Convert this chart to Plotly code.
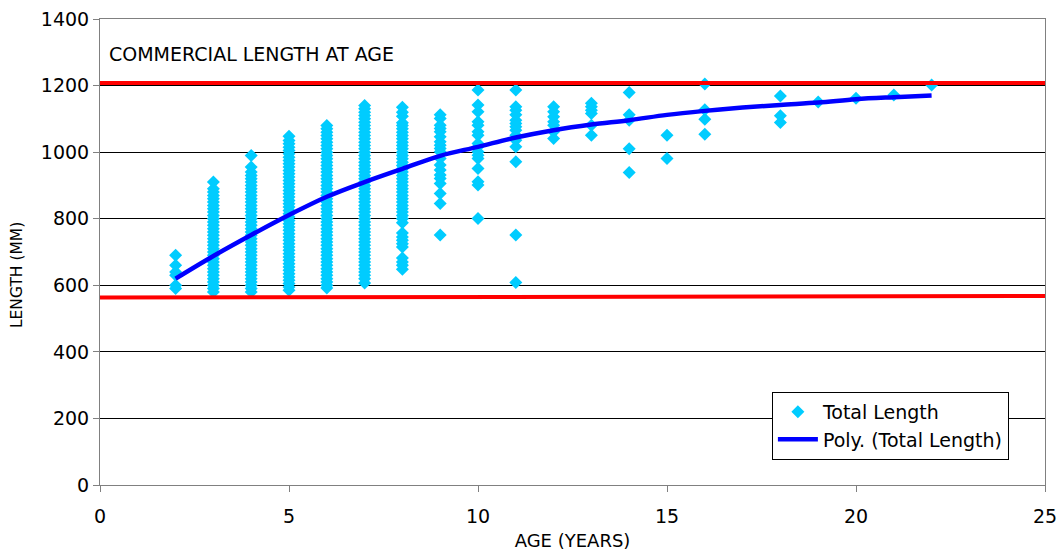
import plotly.graph_objects as go

# ---- data ----
age_2 = [590, 600, 630, 640, 660, 690]
age_3 = [580, 590, 600, 610, 620, 630, 640, 650, 660, 670, 680, 690, 700, 710, 720, 730,
         740, 750, 760, 770, 780, 790, 800, 810, 820, 830, 840, 850, 860, 870, 880, 890, 910]
age_4 = [580, 590, 600, 610, 620, 630, 640, 650, 660, 670, 680, 690, 700, 710, 720, 730,
         740, 750, 760, 770, 780, 790, 800, 810, 820, 830, 840, 850, 860, 870, 880, 890,
         900, 910, 920, 930, 940, 955, 990]
age_5 = [585, 595, 605, 615, 625, 635, 645, 655, 665, 675, 685, 695, 705, 715, 725, 735,
         745, 755, 765, 775, 785, 795, 805, 815, 825, 835, 845, 855, 865, 875, 885, 895,
         905, 915, 925, 935, 945, 955, 965, 975, 985, 995, 1005, 1015, 1025, 1035, 1048]
age_6 = [592, 600, 610, 620, 630, 640, 650, 660, 670, 680, 690, 700, 710, 720, 730, 740,
         750, 760, 770, 780, 790, 800, 810, 820, 830, 840, 850, 860, 870, 880, 890, 900,
         910, 920, 930, 940, 950, 960, 970, 980, 990, 1000, 1010, 1020, 1030, 1040, 1050,
         1060, 1070, 1080]
age_7 = [607, 620, 630, 640, 650, 660, 670, 680, 690, 700, 710, 720, 730, 740, 750, 760,
         770, 780, 790, 800, 810, 820, 830, 840, 850, 860, 870, 880, 890, 900, 910, 920,
         930, 940, 950, 960, 970, 980, 990, 1000, 1010, 1020, 1030, 1040, 1050, 1060, 1070,
         1080, 1090, 1100, 1110, 1120, 1130, 1140]
age_8 = [648, 660, 670, 682, 715, 725, 735, 745, 757, 788, 800, 810, 820, 830, 840, 850,
         860, 870, 880, 890, 900, 910, 920, 930, 940, 950, 960, 970, 980, 990, 1000, 1010,
         1020, 1030, 1040, 1050, 1060, 1070, 1080, 1088, 1108, 1120, 1135]
age_9 = [751, 846, 876, 906, 921, 931, 946, 961, 981, 1001, 1011, 1021, 1031, 1046, 1061,
         1071, 1081, 1101, 1112]
age_10 = [801, 901, 911, 951, 981, 991, 1001, 1016, 1026, 1051, 1061, 1081, 1091, 1121,
          1142, 1187]
age_11 = [608, 751, 971, 1016, 1036, 1051, 1066, 1076, 1086, 1096, 1112, 1126, 1136, 1187]
age_12 = [1041, 1061, 1081, 1091, 1106, 1121, 1136]
age_13 = [1051, 1081, 1116, 1126, 1136, 1147]
age_14 = [939, 1010, 1096, 1112, 1179]
age_15 = [981, 1051]
age_16 = [1054, 1099, 1127, 1205]
age_18 = [1089, 1109, 1169]
age_19 = [1151]
age_20 = [1162]
age_21 = [1172]
age_22 = [1202]

columns = {2: age_2, 3: age_3, 4: age_4, 5: age_5, 6: age_6, 7: age_7, 8: age_8,
           9: age_9, 10: age_10, 11: age_11, 12: age_12, 13: age_13, 14: age_14,
           15: age_15, 16: age_16, 18: age_18, 19: age_19, 20: age_20, 21: age_21,
           22: age_22}

trend_age = [2, 3, 4, 5, 6, 7, 8, 9, 10, 11, 12, 13, 14, 15, 16, 17, 18, 19, 20, 21, 22]
trend_len = [620, 688, 751, 811, 866, 910, 950, 989, 1016, 1044, 1066, 1083, 1096, 1112,
             1124, 1134, 1142, 1149, 1159, 1165, 1170]

commercial_x = [0, 25]
commercial_min = [563, 568]
commercial_max = [1208, 1208]

scatter_x = []
scatter_y = []
for a, vals in columns.items():
    scatter_x += [a] * len(vals)
    scatter_y += vals

FONT = "DejaVu Sans, Verdana, sans-serif"

fig = go.Figure()
fig.add_trace(go.Scatter(
    x=scatter_x, y=scatter_y, mode="markers", name="Total Length",
    marker=dict(symbol="diamond", size=10, color="#00CCFF", line=dict(width=0)),
))
fig.add_trace(go.Scatter(
    x=trend_age, y=trend_len, mode="lines", name="Poly. (Total Length)",
    line=dict(color="#0000FF", width=4.5, shape="spline"),
))
fig.add_trace(go.Scatter(
    x=commercial_x, y=commercial_min, mode="lines", showlegend=False,
    line=dict(color="#FF0000", width=4), hoverinfo="skip",
))
fig.add_trace(go.Scatter(
    x=commercial_x, y=commercial_max, mode="lines", showlegend=False,
    line=dict(color="#FF0000", width=4), hoverinfo="skip",
))

fig.add_annotation(
    text="COMMERCIAL LENGTH AT AGE", xref="paper", yref="paper",
    x=0.007, y=0.925, xanchor="left", yanchor="middle", showarrow=False,
    font=dict(family=FONT, size=19, color="#000000"),
)
fig.add_annotation(
    text="LENGTH (MM)", xref="paper", yref="paper",
    x=-0.087, y=0.45, xanchor="center", yanchor="middle", showarrow=False,
    textangle=-90, font=dict(family=FONT, size=15.5, color="#000000"),
)

fig.update_layout(
    width=1064, height=551,
    margin=dict(l=100, r=19, t=19, b=66, autoexpand=False),
    paper_bgcolor="white", plot_bgcolor="white",
    font=dict(family=FONT, size=19, color="#000000"),
    showlegend=True,
    legend=dict(
        x=0.711, y=0.2, xanchor="left", yanchor="top",
        bgcolor="white", bordercolor="#000000", borderwidth=1,
        font=dict(family=FONT, size=19), tracegroupgap=0,
        itemwidth=40,
    ),
    xaxis=dict(
        range=[0, 25], dtick=5, tick0=0, showgrid=False, zeroline=False,
        showline=True, linecolor="#808080", linewidth=1, mirror=True,
        ticks="outside", ticklen=6, tickcolor="#808080", ticklabelstandoff=8,
        tickfont=dict(family=FONT, size=19), automargin=False,
        title=dict(text="AGE (YEARS)", font=dict(family=FONT, size=18), standoff=16),
    ),
    yaxis=dict(
        range=[0, 1400], dtick=200, tick0=0, showgrid=True, gridcolor="#000000",
        gridwidth=1, zeroline=False,
        showline=True, linecolor="#808080", linewidth=1, mirror=True,
        ticks="outside", ticklen=6, tickcolor="#808080",
        tickfont=dict(family=FONT, size=19), automargin=False,
    ),
)

fig.write_html("out.html")
